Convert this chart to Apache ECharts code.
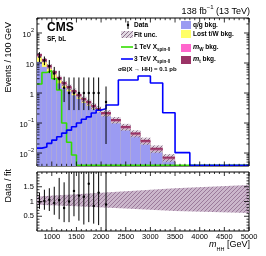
<!DOCTYPE html>
<html><head><meta charset="utf-8">
<script src="https://cdn.jsdelivr.net/npm/echarts@6/dist/echarts.min.js"></script>
<style>html,body{margin:0;padding:0;background:#fff}#c{width:266px;height:256px}</style>
</head><body><div id="c"></div>
<script>
// ---------- data ----------
const bkgEdges = [700,800,900,1000,1100,1200,1300,1400,1500,1600,1700,1800,1900,2000,2200,2400,2600,2800,3000,3250,3500];
const qgBkg   = [11.0,7.4,4.9,3.2,2.1,1.48,1.13,0.84,0.64,0.47,0.38,0.29,0.23,0.174,0.104,0.061,0.037,0.021,0.0114,0.0058];
const lostTW  = [4.6,3.2,1.7,1.0,0.57,0.32,0.2,0.14,0.086,0.057,0.04,0.022,0.015,0.0065,0.0025,0.0015,0.0009,0.0005,0.0003,0.00014];
const mWBkg   = [0.74,0.5,0.32,0.2,0.13,0.086,0.063,0.047,0.034,0.025,0.02,0.015,0.012,0.0086,0.005,0.003,0.0018,0.001,0.00056,0.00028];
const mtBkg   = [2.2,1.5,0.95,0.6,0.38,0.26,0.19,0.14,0.1,0.076,0.06,0.044,0.035,0.026,0.015,0.0089,0.0054,0.0031,0.0017,0.00085];
const fitUncRel = [0.15,0.15,0.16,0.17,0.18,0.19,0.2,0.2,0.21,0.22,0.22,0.23,0.23,0.24,0.25,0.26,0.27,0.28,0.29,0.3];

const sig1Edges = [700,800,900,1000,1100,1200,1300,1400,1500,5000];
const sig1TeV   = [2.0,4.8,5.5,3.0,1.26,0.1,0.023,0.0086,0.0039];
const sig3Edges = [700,800,900,1000,1100,1200,1300,1400,1500,1600,1700,1800,1900,2000,2100,2350,2750,3000,3250,3500,3800,5000];
const sig3TeV   = [0.0146,0.016,0.021,0.027,0.035,0.046,0.058,0.075,0.1,0.133,0.16,0.215,0.27,0.3,0.4,2.7,3.7,2.15,0.22,0.0103,0.0039];

const dataX   = [750,850,950,1050,1150,1250,1350,1450,1550,1650,1750,1850,1950,2100];
const dataY   = [16,12,8,4.5,3,1.5,1,1,1,1,1,1,1,0.5];
const dataLo  = [10.8,8.5,4.6,2.7,1.3,0.5,0.27,0.27,0.27,0.27,0.27,0.27,0.27,0.02];
const dataHi  = [23,16.5,12.6,7.4,5.5,3.5,3.3,3.3,3.3,3.3,3.3,3.3,3.3,1.65];

const ratioY  = [0.98,1.02,1.06,0.95,1.05,0.78,1.0,1.36,1.2,1.16,1.6,0.85,1.3,0.9];
const ratioLo = [0.75,0.72,0.68,0.55,0.4,0.3,0.3,0.5,0.35,0.22,0.3,0.25,0.2,0.0];
const ratioHi = [1.3,1.4,1.45,1.5,1.8,1.65,2.2,2.5,2.5,2.5,2.5,2.5,2.5,2.5];

const bandX  = [700,1500,2500,3500,5000];
const bandHi = [1.17,1.25,1.35,1.45,1.56];
const bandLo = [0.89,0.84,0.76,0.68,0.61];

const xTickLabels = [1000,1500,2000,2500,3000,3500,4000,4500,5000];
const ratioTickLabels = [0.5,1,1.5];

// ---------- helpers ----------
const YMIN = 0.0037, YMAX = 316;
function hatch(bg, fg){
  const c = document.createElement('canvas'); c.width = 4; c.height = 4;
  const g = c.getContext('2d');
  if (bg){ g.fillStyle = bg; g.fillRect(0,0,4,4); }
  g.strokeStyle = fg; g.lineWidth = 1;
  g.beginPath(); g.moveTo(0,4); g.lineTo(4,0); g.moveTo(-1,1); g.lineTo(1,-1); g.moveTo(3,5); g.lineTo(5,3); g.stroke();
  return {image: c, repeat: 'repeat'};
}
const hatchUp = hatch('rgba(205,190,205,0.6)', 'rgba(125,95,125,0.85)');
const hatchRatio = hatch('rgba(200,178,200,0.95)', 'rgba(150,115,150,0.9)');

const C_QG = '#9b9bf2', C_LOST = '#ffff66', C_MW = '#ff66cc', C_MT = '#9b3366';
const FF = 'Liberation Sans, Arial, sans-serif';

function stackLayer(k){
  const out = [];
  for (let i=0;i<qgBkg.length;i++){
    const parts = [qgBkg[i], lostTW[i], mWBkg[i], mtBkg[i]];
    let s = 0; for (let j=0;j<=k;j++) s += parts[j];
    out.push([bkgEdges[i], bkgEdges[i+1], s]);
  }
  return out;
}
function rectSeries(data, color){
  return {type:'custom', xAxisIndex:0, yAxisIndex:0, clip:true, silent:true,
    data: data,
    renderItem: function(p, api){
      const a = api.coord([api.value(0), api.value(2)]);
      const b = api.coord([api.value(1), YMIN]);
      return {type:'rect', shape:{x:a[0], y:a[1], width:b[0]-a[0], height:b[1]-a[1]}, style:{fill:color}};
    }};
}
function stepLine(edges, vals, color, name){
  const d = vals.map((v,i)=>[edges[i], v]);
  d.push([edges[edges.length-1], vals[vals.length-1]]);
  return {type:'line', name:name, step:'end', xAxisIndex:0, yAxisIndex:0, data:d, symbol:'none',
    lineStyle:{color:color, width:1.6}, silent:true, z:5};
}

const totals = stackLayer(3);
const uncData = totals.map((t,i)=>[t[0], t[1], t[2]*(1-fitUncRel[i]), t[2]*(1+fitUncRel[i])]);

const labelFont = {fontFamily:FF, fontSize:7.5, color:'#000'};

function logFmt(v){
  const l = Math.log10(v), r = Math.round(l);
  if (Math.abs(l-r) > 1e-6) return '';
  if (r === 0) return '{b|1}';
  if (r === 1) return '{b|10}';
  return '{b|10}{s|' + (r<0 ? '\u2212'+(-r) : r) + '}';
}
const xTicks = [700,800,900,1000,1100,1200,1300,1400,1500,1600,1700,1800,1900,2000,2100,2200,2300,2400,2500,2600,2700,2800,2900,3000,3100,3200,3300,3400,3500,3600,3700,3800,3900,4000,4100,4200,4300,4400,4500,4600,4700,4800,4900,5000];

const option = {
  animation:false,
  grid:[
    {left:37, top:18, width:212, height:148, show:true, borderColor:'#000', borderWidth:1, backgroundColor:'transparent'},
    {left:37, top:172, width:212, height:59, show:true, borderColor:'#000', borderWidth:1, backgroundColor:'transparent'}
  ],
  xAxis:[
    {type:'value', gridIndex:0, min:700, max:5000, splitNumber:8, axisLine:{show:false}, axisTick:{show:false}, axisLabel:{show:false}, splitLine:{show:false}},
    {type:'value', gridIndex:1, min:700, max:5000, splitNumber:8, axisLine:{show:false}, axisTick:{show:false}, splitLine:{show:false},
      axisLabel:Object.assign({margin:1.5, formatter:v=> xTickLabels.indexOf(v)>=0 ? String(v) : ''}, labelFont)}
  ],
  yAxis:[
    {type:'log', gridIndex:0, min:YMIN, max:YMAX, logBase:10, axisLine:{show:false}, axisTick:{show:false}, splitLine:{show:false},
      axisLabel:Object.assign({margin:3, formatter:logFmt, rich:{b:{fontSize:7.5, lineHeight:12, verticalAlign:'bottom', fontFamily:FF}, s:{fontSize:5.5, lineHeight:6, verticalAlign:'top', fontFamily:FF}}}, labelFont)},
    {type:'value', gridIndex:1, min:0, max:2, interval:0.5, axisLine:{show:false}, axisTick:{show:false}, splitLine:{show:false},
      axisLabel:Object.assign({margin:3, formatter:v=> ratioTickLabels.indexOf(v)>=0 ? String(v) : ''}, labelFont)}
  ],
  series:[
    rectSeries(totals, C_MT),
    rectSeries(stackLayer(2), C_MW),
    rectSeries(stackLayer(1), C_LOST),
    rectSeries(stackLayer(0), C_QG),
    {type:'custom', xAxisIndex:0, yAxisIndex:0, clip:true, silent:true, data:uncData, z:3,
      renderItem:function(p, api){
        const a = api.coord([api.value(0), api.value(3)]);
        const b = api.coord([api.value(1), api.value(2)]);
        return {type:'rect', shape:{x:a[0], y:a[1], width:b[0]-a[0], height:b[1]-a[1]}, style:{fill:hatchUp}};
      }},
    {type:'custom', xAxisIndex:0, yAxisIndex:0, clip:true, silent:true, data:totals, z:4,
      renderItem:function(p, api){
        const a = api.coord([api.value(0), api.value(2)]);
        const b = api.coord([api.value(1), api.value(2)]);
        return {type:'line', shape:{x1:a[0], y1:a[1], x2:b[0], y2:b[1]}, style:{stroke:C_MT, lineWidth:2}};
      }},
    stepLine(sig1Edges, sig1TeV, '#33dd00', '1 TeV'),
    stepLine(sig3Edges, sig3TeV, '#0000ff', '3 TeV'),
    {type:'custom', xAxisIndex:0, yAxisIndex:0, clip:true, silent:true, z:6,
      data: dataX.map((x,i)=>[x, dataY[i], dataLo[i], dataHi[i]]),
      renderItem:function(p, api){
        const c = api.coord([api.value(0), api.value(1)]);
        const lo = api.coord([api.value(0), Math.max(api.value(2), YMIN)]);
        const hi = api.coord([api.value(0), api.value(3)]);
        return {type:'group', children:[
          {type:'line', shape:{x1:c[0], y1:lo[1], x2:c[0], y2:hi[1]}, style:{stroke:'#000', lineWidth:1}},
          {type:'circle', shape:{cx:c[0], cy:c[1], r:1.2}, style:{fill:'#000'}}
        ]};
      }},
    {type:'custom', xAxisIndex:1, yAxisIndex:1, clip:true, silent:true, data:[0],
      renderItem:function(p, api){
        const pts = [];
        for (let i=0;i<bandX.length;i++) pts.push(api.coord([bandX[i], bandHi[i]]));
        for (let i=bandX.length-1;i>=0;i--) pts.push(api.coord([bandX[i], bandLo[i]]));
        return {type:'polygon', shape:{points:pts}, style:{fill:hatchRatio}};
      }},
    {type:'custom', xAxisIndex:1, yAxisIndex:1, clip:true, silent:true, z:6,
      data: dataX.map((x,i)=>[x, ratioY[i], ratioLo[i], ratioHi[i]]),
      renderItem:function(p, api){
        const c = api.coord([api.value(0), api.value(1)]);
        const lo = api.coord([api.value(0), api.value(2)]);
        const hi = api.coord([api.value(0), api.value(3)]);
        return {type:'group', children:[
          {type:'line', shape:{x1:c[0], y1:lo[1], x2:c[0], y2:hi[1]}, style:{stroke:'#000', lineWidth:1}},
          {type:'circle', shape:{cx:c[0], cy:c[1], r:1.2}, style:{fill:'#000'}}
        ]};
      }},
    {type:'custom', xAxisIndex:0, yAxisIndex:0, clip:false, silent:true, z:7,
      data: xTicks.map(v=>[v]),
      renderItem:function(p, api){
        const v = api.value(0), major = v % 500 === 0;
        const b = api.coord([v, YMIN]), t = api.coord([v, YMAX]);
        const L = major ? 4.5 : 2.2;
        return {type:'group', children:[
          {type:'line', shape:{x1:b[0], y1:b[1], x2:b[0], y2:b[1]-L}, style:{stroke:'#000', lineWidth:0.8}},
          {type:'line', shape:{x1:t[0], y1:t[1], x2:t[0], y2:t[1]+L}, style:{stroke:'#000', lineWidth:0.8}}
        ]};
      }},
    {type:'custom', xAxisIndex:1, yAxisIndex:1, clip:false, silent:true, z:7,
      data: xTicks.map(v=>[v]),
      renderItem:function(p, api){
        const v = api.value(0), major = v % 500 === 0;
        const b = api.coord([v, 0]), t = api.coord([v, 2]);
        const L = major ? 4 : 2;
        return {type:'group', children:[
          {type:'line', shape:{x1:b[0], y1:b[1], x2:b[0], y2:b[1]-L}, style:{stroke:'#000', lineWidth:0.8}},
          {type:'line', shape:{x1:t[0], y1:t[1], x2:t[0], y2:t[1]+L}, style:{stroke:'#000', lineWidth:0.8}}
        ]};
      }},
    {type:'custom', xAxisIndex:0, yAxisIndex:0, clip:false, silent:true, z:7,
      data: [0.004,0.005,0.006,0.007,0.008,0.009,0.01,0.02,0.03,0.04,0.05,0.06,0.07,0.08,0.09,0.1,0.2,0.3,0.4,0.5,0.6,0.7,0.8,0.9,1,2,3,4,5,6,7,8,9,10,20,30,40,50,60,70,80,90,100,200,300].map(v=>[v]),
      renderItem:function(p, api){
        const v = api.value(0), l = Math.log10(v), major = Math.abs(l-Math.round(l))<1e-6;
        const a = api.coord([700, v]), b = api.coord([5000, v]);
        const L = major ? 5 : 2.5;
        return {type:'group', children:[
          {type:'line', shape:{x1:a[0], y1:a[1], x2:a[0]+L, y2:a[1]}, style:{stroke:'#000', lineWidth:0.8}},
          {type:'line', shape:{x1:b[0], y1:b[1], x2:b[0]-L, y2:b[1]}, style:{stroke:'#000', lineWidth:0.8}}
        ]};
      }},
    {type:'custom', xAxisIndex:1, yAxisIndex:1, clip:false, silent:true, z:7,
      data: [0.1,0.2,0.3,0.4,0.5,0.6,0.7,0.8,0.9,1,1.1,1.2,1.3,1.4,1.5,1.6,1.7,1.8,1.9].map(v=>[v]),
      renderItem:function(p, api){
        const v = api.value(0), major = Math.abs(v*2-Math.round(v*2))<1e-6;
        const a = api.coord([700, v]), b = api.coord([5000, v]);
        const L = major ? 5 : 2.5;
        return {type:'group', children:[
          {type:'line', shape:{x1:a[0], y1:a[1], x2:a[0]+L, y2:a[1]}, style:{stroke:'#000', lineWidth:0.8}},
          {type:'line', shape:{x1:b[0], y1:b[1], x2:b[0]-L, y2:b[1]}, style:{stroke:'#000', lineWidth:0.8}}
        ]};
      }}
  ],
  graphic:[]
};

const g = option.graphic;
function txt(x, y, text, size, style){
  g.push({type:'text', x:x, y:y, silent:true, z:100, style:Object.assign({text:text, fontSize:size, fontFamily:FF, fill:'#000', textVerticalAlign:'middle'}, style||{})});
}
const SUB = {fontSize:4.5, fontWeight:'bold', fontFamily:FF, verticalAlign:'bottom', lineHeight:5};
const BASE = {fontSize:6.5, fontWeight:'bold', fontFamily:FF, verticalAlign:'top', lineHeight:9};
const ITAL = {fontSize:7, fontWeight:'bold', fontStyle:'italic', fontFamily:FF, verticalAlign:'top', lineHeight:9};
// titles
txt(47, 28, 'CMS', 12, {fontWeight:'bold'});
txt(47, 39, 'SF, bL', 6.5, {fontWeight:'bold'});
txt(250, 10, '{n|138 fb}{s|\u22121}{n| (13 TeV)}', 9, {textAlign:'right', rich:{n:{fontSize:9, fontFamily:FF, verticalAlign:'bottom', lineHeight:12}, s:{fontSize:6, verticalAlign:'top', lineHeight:6, fontFamily:FF}}});
g.push({type:'text', x:9, y:22, rotation:Math.PI/2, silent:true, style:{text:'Events / 100 GeV', fontSize:9, fontFamily:FF, fill:'#000', textAlign:'right', textVerticalAlign:'middle'}});
g.push({type:'text', x:9, y:169, rotation:Math.PI/2, silent:true, style:{text:'Data / fit', fontSize:9, fontFamily:FF, fill:'#000', textAlign:'right', textVerticalAlign:'middle'}});
txt(250, 246, '{i|m}{sub|HH}{n| [GeV]}', 9, {textAlign:'right', rich:{i:{fontStyle:'italic', fontSize:9, fontFamily:FF, lineHeight:12, verticalAlign:'top'}, n:{fontSize:9, fontFamily:FF, lineHeight:12, verticalAlign:'top'}, sub:{fontSize:5.5, fontFamily:FF, verticalAlign:'bottom', lineHeight:6}}});

// legend left column
g.push({type:'line', shape:{x1:128, y1:21, x2:128, y2:29}, style:{stroke:'#000', lineWidth:1}, silent:true});
g.push({type:'circle', shape:{cx:128, cy:25, r:1.2}, style:{fill:'#000'}, silent:true});
txt(134, 25, 'Data', 6.5, {fontWeight:'bold'});
g.push({type:'rect', shape:{x:121, y:31, width:12, height:7}, style:{fill:hatchUp}, silent:true});
txt(134, 35, 'Fit unc.', 6.5, {fontWeight:'bold'});
g.push({type:'line', shape:{x1:121, y1:47, x2:133, y2:47}, style:{stroke:'#33dd00', lineWidth:1.6}, silent:true});
txt(134, 48, '{n|1 TeV X}{sub|spin-0}', 6.5, {rich:{n:BASE, sub:SUB}});
g.push({type:'line', shape:{x1:121, y1:59, x2:133, y2:59}, style:{stroke:'#0000ff', lineWidth:1.6}, silent:true});
txt(134, 60, '{n|3 TeV X}{sub|spin-0}', 6.5, {rich:{n:BASE, sub:SUB}});
txt(118, 69, '\u03C3B(X \u2192 HH) = 0.1 pb', 6, {fontWeight:'bold'});
// legend right column
[[25,C_QG,'q/g bkg.'],[34,C_LOST,'Lost t/W bkg.']].forEach(r=>{
  g.push({type:'rect', shape:{x:181, y:r[0]-4, width:10, height:8}, style:{fill:r[1]}, silent:true});
  txt(193, r[0], r[2], 6.5, {fontWeight:'bold'});
});
g.push({type:'rect', shape:{x:181, y:44, width:10, height:8}, style:{fill:C_MW}, silent:true});
txt(193, 48, '{i|m}{sub|W}{n| bkg.}', 6.5, {rich:{i:ITAL, sub:SUB, n:BASE}});
g.push({type:'rect', shape:{x:181, y:56, width:10, height:8}, style:{fill:C_MT}, silent:true});
txt(193, 60, '{i|m}{sub|t}{n| bkg.}', 6.5, {rich:{i:ITAL, sub:SUB, n:BASE}});

const chart = echarts.init(document.getElementById('c'), null, {renderer:'canvas'});
chart.setOption(option);
</script>
</body></html>
